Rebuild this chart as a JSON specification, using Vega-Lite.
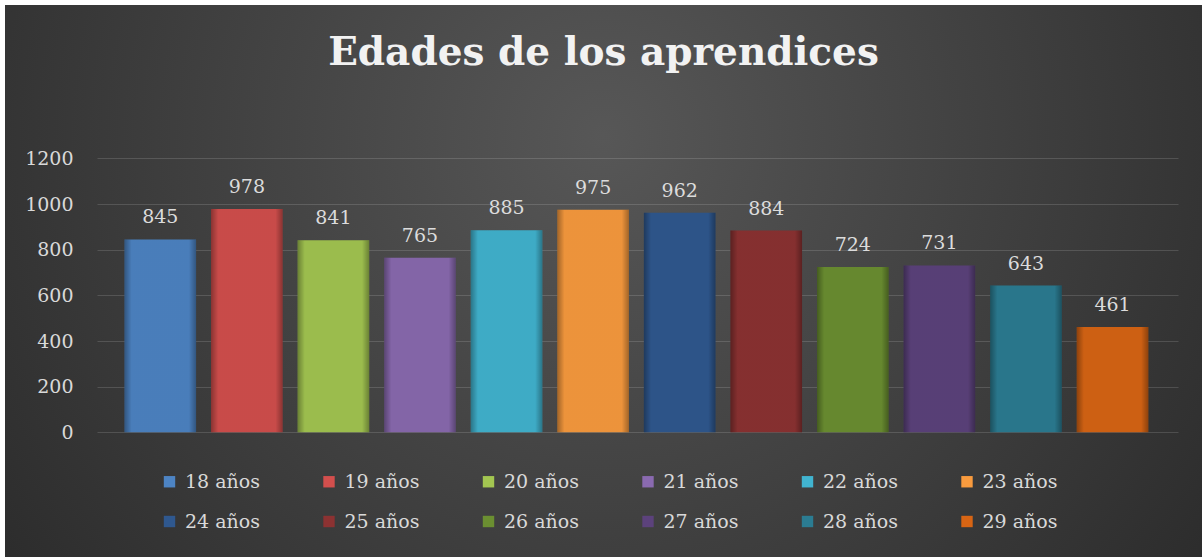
{
  "$schema": "https://vega.github.io/schema/vega-lite/v6.json",
  "width": 1197,
  "height": 552,
  "autosize": {"type": "none"},
  "padding": {"left": 5, "top": 5, "right": 1, "bottom": 1},
  "background": "white",
  "view": {
    "stroke": null,
    "fill": {
      "gradient": "radial",
      "x1": 0.5, "y1": 0.38, "r1": 0,
      "x2": 0.5, "y2": 0.38, "r2": 0.72,
      "stops": [
        {"offset": 0, "color": "#575757"},
        {"offset": 1, "color": "#252525"}
      ]
    }
  },
  "title": {
    "text": "Edades de los aprendices",
    "frame": "group",
    "anchor": "middle",
    "orient": "top",
    "offset": -99,
    "baseline": "alphabetic",
    "font": "DejaVu Serif",
    "fontSize": 39,
    "fontWeight": "bold",
    "color": "#f2f2f2"
  },
  "data": {
    "values": [
      {"edad": "18 años", "aprendices": 845},
      {"edad": "19 años", "aprendices": 978},
      {"edad": "20 años", "aprendices": 841},
      {"edad": "21 años", "aprendices": 765},
      {"edad": "22 años", "aprendices": 885},
      {"edad": "23 años", "aprendices": 975},
      {"edad": "24 años", "aprendices": 962},
      {"edad": "25 años", "aprendices": 884},
      {"edad": "26 años", "aprendices": 724},
      {"edad": "27 años", "aprendices": 731},
      {"edad": "28 años", "aprendices": 643},
      {"edad": "29 años", "aprendices": 461}
    ]
  },
  "encoding": {
    "x": {
      "field": "edad",
      "type": "nominal",
      "sort": null,
      "axis": null,
      "scale": {"paddingInner": 0.173, "paddingOuter": 1.054, "align": 0.69}
    },
    "y": {
      "field": "aprendices",
      "type": "quantitative",
      "scale": {"domain": [-546, 1872], "nice": false, "zero": false},
      "axis": {
        "orient": "left",
        "offset": -1173,
        "tickSize": 1081,
        "ticks": true,
        "tickColor": "rgba(255,255,255,0.14)",
        "tickWidth": 1,
        "domain": false,
        "grid": false,
        "values": [0, 200, 400, 600, 800, 1000, 1200],
        "format": "d",
        "labelPadding": 24,
        "labelFont": "DejaVu Serif",
        "labelFontSize": 19,
        "labelColor": "#d9d9d9",
        "title": null,
        "zindex": 0
      }
    }
  },
  "layer": [
    {
      "mark": {"type": "bar", "strokeWidth": 0},
      "encoding": {
        "y2": {"datum": 0},
        "color": {
          "field": "edad",
          "type": "nominal",
          "sort": null,
          "scale": {
            "range": ["#4d84c4", "#d34f4d", "#a3c651", "#8a6ab0", "#41b4d0", "#f99b3e",
                      "#2f588f", "#8c3232", "#6b8f31", "#5c427c", "#2b7c92", "#d86514"]
          },
          "legend": {
            "orient": "none",
            "direction": "horizontal",
            "legendX": 155,
            "legendY": 467,
            "columns": 6,
            "gridAlign": "all",
            "columnPadding": 59.5,
            "rowPadding": 20,
            "padding": 0,
            "title": null,
            "symbolType": "square",
            "symbolSize": 130,
            "symbolStrokeWidth": 0,
            "labelOffset": 6,
            "labelFont": "DejaVu Serif",
            "labelFontSize": 19,
            "labelColor": "#d9d9d9"
          }
        }
      }
    },
    {
      "mark": {
        "type": "bar",
        "strokeWidth": 0,
        "fill": {
          "gradient": "linear",
          "x1": 0, "y1": 0, "x2": 1, "y2": 0,
          "stops": [
            {"offset": 0, "color": "rgba(0,0,0,0.35)"},
            {"offset": 0.1, "color": "rgba(0,0,0,0.05)"},
            {"offset": 0.9, "color": "rgba(0,0,0,0.05)"},
            {"offset": 1, "color": "rgba(0,0,0,0.35)"}
          ]
        }
      },
      "encoding": {"y2": {"datum": 0}}
    },
    {
      "mark": {
        "type": "text",
        "dy": -16,
        "baseline": "alphabetic",
        "align": "center",
        "font": "DejaVu Serif",
        "fontSize": 19,
        "color": "#dcdcdc"
      },
      "encoding": {"text": {"field": "aprendices", "type": "quantitative"}}
    }
  ]
}
